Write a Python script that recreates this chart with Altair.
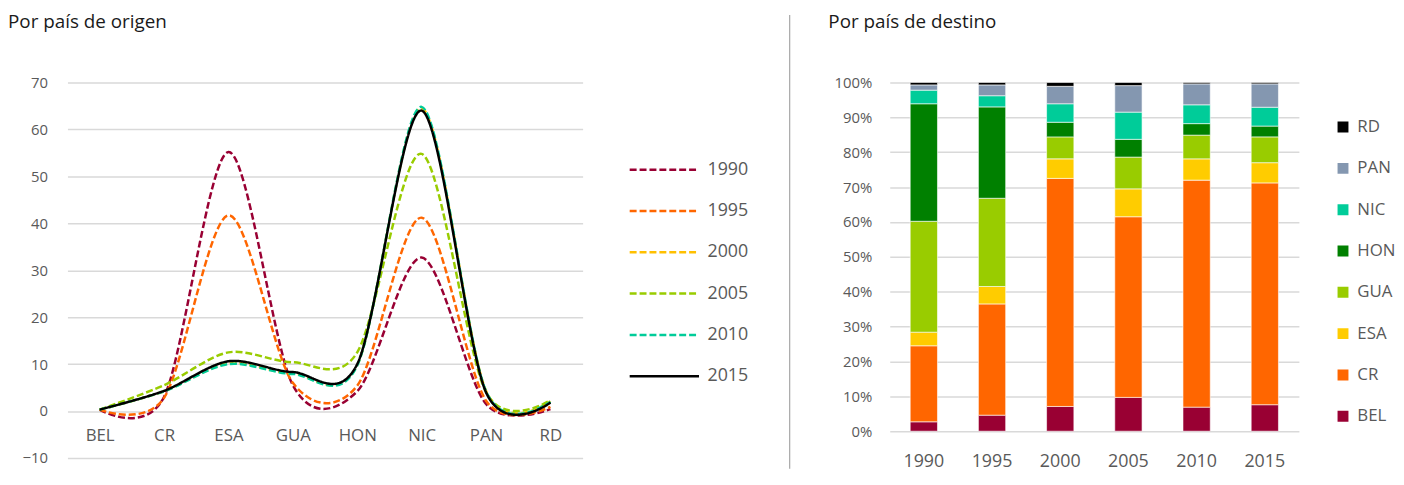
import altair as alt
import pandas as pd

# ---------------- data: left chart (por país de origen) ----------------
countries = ["BEL", "CR", "ESA", "GUA", "HON", "NIC", "PAN", "RD"]
years_line = ["1990", "1995", "2000", "2005", "2010", "2015"]
v1990 = [0.3, 3.0, 55.2, 5.5, 4.2, 32.7, 1.5, 0.4]
v1995 = [0.3, 2.8, 41.7, 6.0, 5.4, 41.2, 2.2, 0.9]
v2000 = [0.3, 4.2, 10.2, 8.0, 9.8, 64.5, 4.3, 2.1]
v2005 = [0.3, 5.5, 12.5, 10.4, 12.5, 54.8, 4.0, 2.3]
v2010 = [0.3, 4.2, 10.0, 7.9, 9.7, 64.8, 4.2, 2.0]
v2015 = [0.3, 4.3, 10.6, 8.3, 10.0, 64.0, 4.0, 1.8]
line_colors = ["#990033", "#FF6600", "#FFC000", "#99CC00", "#00CC99", "#000000"]
y_ticks = [-10, 0, 10, 20, 30, 40, 50, 60, 70]

# ---------------- data: right chart (por país de destino) ----------------
years_bar = ["1990", "1995", "2000", "2005", "2010", "2015"]
dest = ["BEL", "CR", "ESA", "GUA", "HON", "NIC", "PAN", "RD"]
BEL = [2.7, 4.6, 7.1, 9.7, 6.9, 7.6]
CR = [21.8, 31.9, 65.4, 51.8, 65.1, 63.6]
ESA = [3.9, 5.0, 5.6, 8.0, 6.1, 5.8]
GUA = [31.8, 25.3, 6.3, 9.1, 6.8, 7.4]
HON = [33.7, 26.2, 4.2, 5.1, 3.3, 3.1]
NIC = [3.9, 3.2, 5.3, 7.8, 5.4, 5.4]
PAN = [1.5, 3.1, 5.0, 7.6, 6.0, 6.7]
RD = [0.7, 0.7, 1.1, 0.9, 0.4, 0.4]
bar_colors = ["#990033", "#FF6600", "#FFCC00", "#99CC00", "#008000", "#00CC99", "#8497B0", "#000000"]

FONT = "Open Sans"
GRAY = "#595959"

# ---------------- build tables ----------------
rows = []
for yr, vals in zip(years_line, [v1990, v1995, v2000, v2005, v2010, v2015]):
    for c, v in zip(countries, vals):
        rows.append({"pais": c, "anio": yr, "valor": v})
df_line = pd.DataFrame(rows)

rows = []
for i, (c, vals) in enumerate(zip(dest, [BEL, CR, ESA, GUA, HON, NIC, PAN, RD])):
    for yr, v in zip(years_bar, vals):
        rows.append({"destino": c, "anio": yr, "valor": v, "idx": i})
df_bar = pd.DataFrame(rows)

# ---------------- left chart ----------------
dash_range = [[7, 3]] * 5 + [[1, 0]]
line_legend = alt.Legend(
    title=None, orient="none", legendX=566, legendY=78,
    symbolType="stroke", symbolSize=4900, symbolStrokeWidth=2.5,
    clipHeight=20, rowPadding=21.7, labelFontSize=18, labelColor=GRAY,
    labelOffset=7, padding=0, labelFont=FONT,
)

lines = alt.Chart(df_line).mark_line(interpolate="cardinal", tension=0.1, strokeWidth=2.5).encode(
    x=alt.X("pais:N", sort=countries, scale=alt.Scale(padding=0.5),
            axis=alt.Axis(title=None, domain=False, ticks=False, tickSize=0, labelAngle=0,
                          labelPadding=16, offset=-47, labelFontSize=17, labelColor=GRAY,
                          grid=False, labelFont=FONT)),
    y=alt.Y("valor:Q", scale=alt.Scale(domain=[-10, 70], nice=False, zero=False),
            axis=alt.Axis(values=y_ticks, title=None, domain=False, ticks=False, tickSize=0,
                          labelPadding=20, gridColor="#D9D9D9", gridWidth=1.5,
                          labelFontSize=15, labelColor=GRAY, labelFont=FONT)),
    color=alt.Color("anio:N", scale=alt.Scale(domain=years_line, range=line_colors), legend=line_legend),
    strokeDash=alt.StrokeDash("anio:N", scale=alt.Scale(domain=years_line, range=dash_range), legend=line_legend),
    order=alt.Order("anio:N"),
)

left = lines.properties(
    width=520, height=379,
    title=alt.TitleParams("Por país de origen", anchor="start", frame="group", dx=-60,
                          fontSize=19, fontWeight="normal", color="#1a1a1a", offset=44, font=FONT),
)

# ---------------- separator ----------------
sep = alt.Chart(pd.DataFrame({"k": [0]})).mark_rule(color="#A6A6A6", strokeWidth=1.2).encode(
    x=alt.value(31), y=alt.value(-68), y2=alt.value(390)
).properties(width=60, height=379)

# ---------------- right chart ----------------
bars = alt.Chart(df_bar).mark_bar(stroke="white", strokeWidth=0.6).encode(
    x=alt.X("anio:N", sort=years_bar, scale=alt.Scale(paddingInner=0.6, paddingOuter=0.3),
            axis=alt.Axis(title=None, domain=False, ticks=False, tickSize=0, labelAngle=0,
                          labelPadding=22, labelFontSize=18, labelColor=GRAY, labelFont=FONT)),
    y=alt.Y("valor:Q", stack="normalize",
            scale=alt.Scale(domain=[0, 1], nice=False),
            axis=alt.Axis(values=[i / 10 for i in range(11)], format=".0%", title=None,
                          domain=False, ticks=False, tickSize=0, labelPadding=18,
                          gridColor="#D9D9D9", gridWidth=1.5, labelFontSize=15,
                          labelColor=GRAY, labelFont=FONT)),
    color=alt.Color("destino:N",
                    scale=alt.Scale(domain=dest[::-1], range=bar_colors[::-1]),
                    legend=alt.Legend(title=None, orient="none", legendX=449, legendY=35,
                                      symbolType="square", symbolSize=121, symbolStrokeWidth=0,
                                      clipHeight=20, rowPadding=21.7, labelFontSize=17,
                                      labelColor=GRAY, labelOffset=6, padding=0, labelFont=FONT)),
    order=alt.Order("idx:Q", sort="ascending"),
)

right = bars.properties(
    width=413, height=352,
    title=alt.TitleParams("Por país de destino", anchor="start", frame="group", dx=-62,
                          fontSize=19, fontWeight="normal", color="#1a1a1a", offset=44, font=FONT),
)

chart = alt.hconcat(left, sep, right, spacing=10).resolve_scale(
    color="independent", strokeDash="independent", x="independent", y="independent"
).resolve_legend(color="independent", strokeDash="independent").configure(
    padding={"left": 0, "top": 3, "right": 0, "bottom": 0}, background="white"
).configure_view(strokeWidth=0, stroke="transparent")

chart.save("out.html", embed_options={"renderer": "svg", "actions": False})
